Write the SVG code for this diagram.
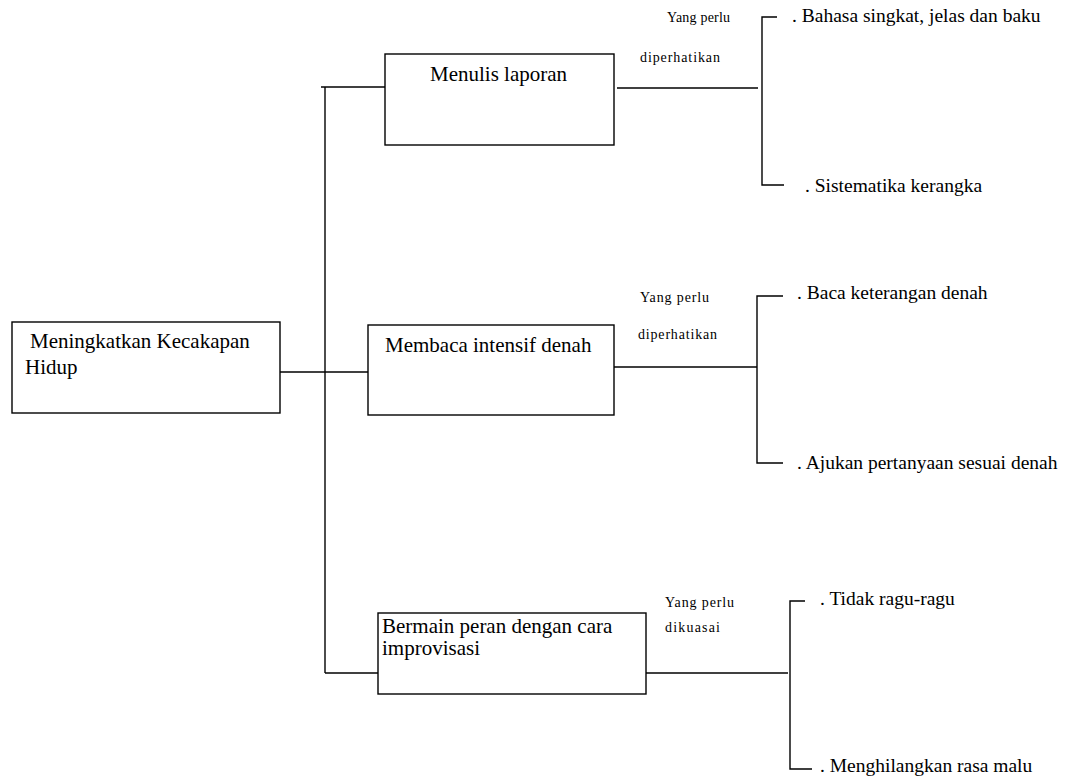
<svg xmlns="http://www.w3.org/2000/svg" width="1074" height="784" viewBox="0 0 1074 784">
<style>
.box{fill:#fff;stroke:#000;stroke-width:1.4}
.ln{fill:none;stroke:#000;stroke-width:1.4}
</style>
<rect width="1074" height="784" fill="#fff"/>
<g id="connectors">
<path class="ln" d="M325,87 V673"/>
<path class="ln" d="M321,87 H385"/>
<path class="ln" d="M325,673 H378"/>
<path class="ln" d="M280,372 H378"/>
<path class="ln" d="M617,88 H758"/>
<path class="ln" d="M777,17 H762 V185 H784"/>
<path class="ln" d="M614,367 H757"/>
<path class="ln" d="M783,296 H757 V463 H783"/>
<path class="ln" d="M646,673 H788"/>
<path class="ln" d="M805,601 H790 V769 H812"/>
</g>
<g id="root">
<rect class="box" x="12" y="322" width="268" height="91"/>
<text x="30" y="348" font-family="Liberation Serif" font-size="21">Meningkatkan Kecakapan</text>
<text x="25" y="374" font-family="Liberation Serif" font-size="21">Hidup</text>
</g>
<g id="menulis">
<rect class="box" x="385" y="54" width="229" height="91"/>
<text x="430" y="81" font-family="Liberation Serif" font-size="21">Menulis laporan</text>
</g>
<g id="membaca">
<rect class="box" x="368" y="325" width="246" height="90"/>
<text x="385" y="352" font-family="Liberation Serif" font-size="21">Membaca intensif denah</text>
</g>
<g id="bermain">
<rect class="box" x="378" y="613" width="268" height="81"/>
<text x="382" y="633" font-family="Liberation Serif" font-size="21">Bermain peran dengan cara</text>
<text x="382" y="655" font-family="Liberation Serif" font-size="21">improvisasi</text>
</g>
<g id="labels">
<text x="667" y="22" font-family="Liberation Serif" font-size="14" textLength="63">Yang perlu</text>
<text x="640" y="62" font-family="Liberation Serif" font-size="14" textLength="80">diperhatikan</text>
<text x="640" y="302" font-family="Liberation Serif" font-size="14" textLength="69">Yang perlu</text>
<text x="638" y="339" font-family="Liberation Serif" font-size="14" textLength="79">diperhatikan</text>
<text x="665" y="607" font-family="Liberation Serif" font-size="14" textLength="69">Yang perlu</text>
<text x="665" y="632" font-family="Liberation Serif" font-size="14" textLength="55">dikuasai</text>
</g>
<g id="items">
<text x="792" y="22" font-family="Liberation Serif" font-size="19.5">. Bahasa singkat, jelas dan baku</text>
<text x="805" y="192" font-family="Liberation Serif" font-size="19.5">. Sistematika kerangka</text>
<text x="797" y="299" font-family="Liberation Serif" font-size="19.5">. Baca keterangan denah</text>
<text x="797" y="469" font-family="Liberation Serif" font-size="19.5">. Ajukan pertanyaan sesuai denah</text>
<text x="820" y="605" font-family="Liberation Serif" font-size="19.5">. Tidak ragu-ragu</text>
<text x="820" y="772" font-family="Liberation Serif" font-size="19.5">. Menghilangkan rasa malu</text>
</g>
</svg>
